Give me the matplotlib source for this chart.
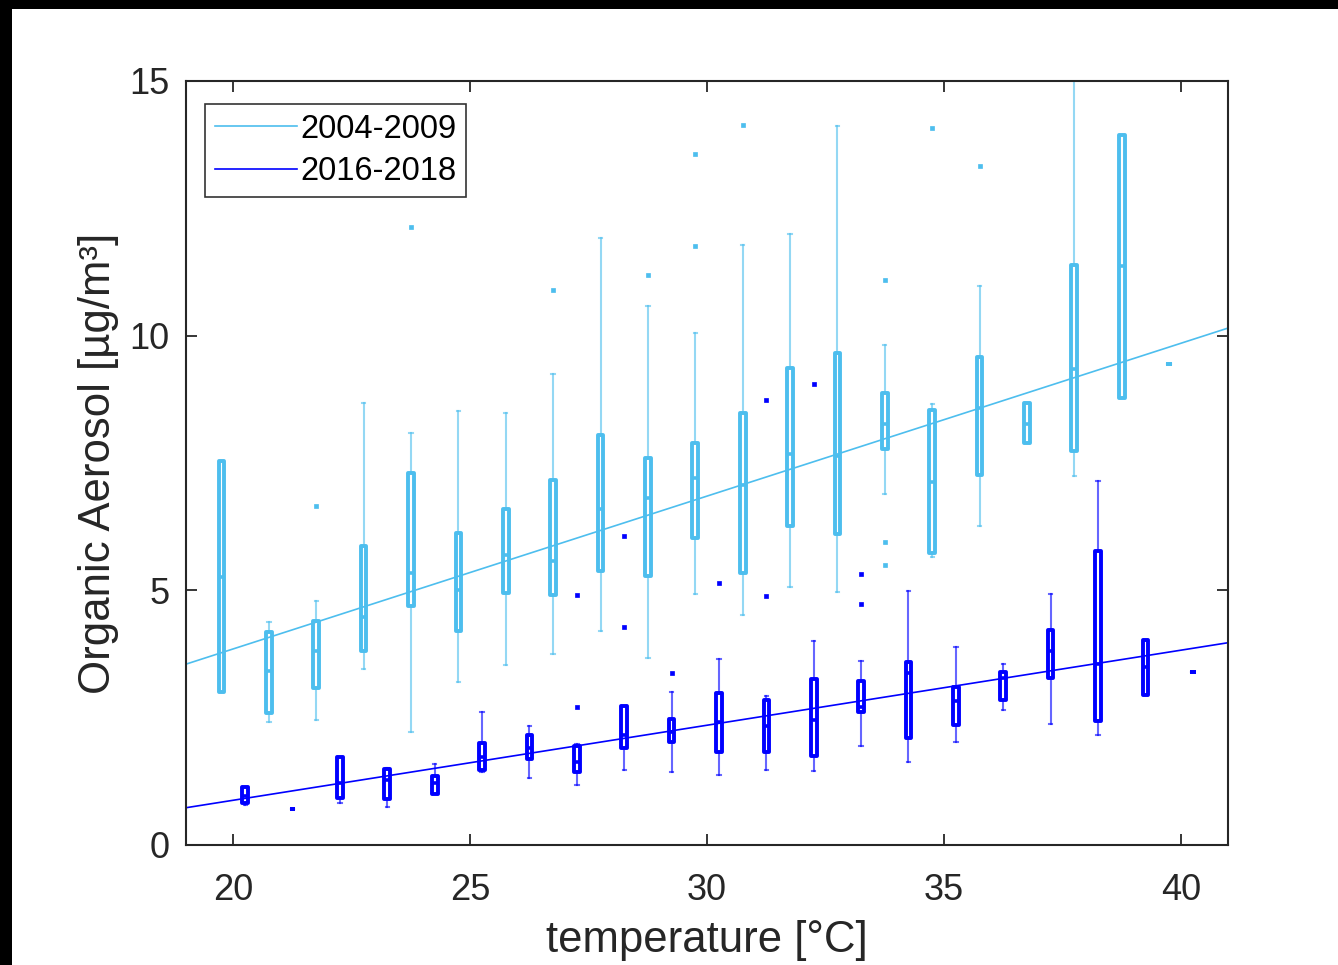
import matplotlib
matplotlib.use("Agg")
import matplotlib.pyplot as plt
from matplotlib.patches import Rectangle

plt.rcParams['font.family'] = ['Liberation Sans', 'DejaVu Sans']

# ---------------- data ----------------
light_pos = [19.75 + k for k in range(21)]
light_q1 = [3.00, 2.59, 3.08, 3.81, 4.69, 4.20, 4.95, 4.91, 5.38, 5.28, 6.03, 5.34, 6.26, 6.10, 7.78, 5.73, 7.26, 7.89, 7.74, 8.78, 9.44]
light_med = [5.26, 3.42, 3.81, 4.48, 5.34, 5.00, 5.69, 5.58, 6.60, 6.81, 7.20, 7.07, 7.68, 7.64, 8.27, 7.13, 8.58, 8.27, 9.35, 11.37, 9.44]
light_q3 = [7.54, 4.18, 4.40, 5.87, 7.30, 6.13, 6.60, 7.17, 8.05, 7.60, 7.89, 8.48, 9.37, 9.66, 8.88, 8.54, 9.58, 8.68, 11.39, 13.94, 9.44]
light_lo = [3.00, 2.42, 2.45, 3.46, 2.22, 3.20, 3.53, 3.75, 4.20, 3.67, 4.93, 4.52, 5.07, 4.97, 6.89, 5.65, 6.26, 7.89, 7.25, 8.78, 9.44]
light_hi = [7.54, 4.38, 4.79, 8.68, 8.09, 8.52, 8.48, 9.25, 11.92, 10.58, 10.05, 11.78, 12.00, 14.12, 9.82, 8.66, 10.98, 8.68, 15.5, 13.94, 9.44]
light_fliers = {2: [6.66], 4: [12.13], 7: [10.9], 9: [11.19], 10: [11.76, 13.57],
                11: [14.14], 14: [11.1, 5.95, 5.5], 15: [14.08], 16: [13.33]}

dark_pos = [20.25 + k for k in range(21)]
dark_q1 = [0.82, 0.71, 0.92, 0.90, 1.00, 1.47, 1.69, 1.43, 1.90, 2.02, 1.83, 1.83, 1.75, 2.61, 2.10, 2.36, 2.85, 3.28, 2.43, 2.95, 3.40]
dark_med = [0.96, 0.71, 1.22, 1.28, 1.22, 1.73, 1.90, 1.63, 2.16, 2.22, 2.42, 2.34, 2.45, 2.71, 3.38, 2.83, 3.28, 3.81, 3.55, 3.49, 3.40]
dark_q3 = [1.14, 0.71, 1.73, 1.49, 1.35, 2.00, 2.16, 1.94, 2.73, 2.47, 2.98, 2.85, 3.26, 3.22, 3.59, 3.10, 3.40, 4.22, 5.77, 4.03, 3.40]
dark_lo = [0.79, 0.71, 0.82, 0.75, 1.00, 1.43, 1.32, 1.18, 1.47, 1.43, 1.37, 1.47, 1.45, 1.94, 1.63, 2.02, 2.65, 2.38, 2.16, 2.95, 3.40]
dark_hi = [1.14, 0.71, 1.73, 1.51, 1.59, 2.61, 2.34, 1.98, 2.73, 3.00, 3.65, 2.93, 4.00, 3.61, 4.99, 3.89, 3.55, 4.93, 7.15, 4.03, 3.40]
dark_fliers = {7: [2.71, 4.91], 8: [6.07, 4.28], 9: [3.38], 10: [5.14],
               11: [8.74, 4.89], 12: [9.05], 13: [5.32, 4.73]}

# linear fits (slope, intercept)
light_fit = (0.300, -2.15)
dark_fit = (0.1473, -2.068)

labels = ['2004-2009', '2016-2018']
xticks = [20, 25, 30, 35, 40]
yticks = [0, 5, 10, 15]

LIGHT = '#4DBEEE'
DARK = '#0000FF'
AX_C = '#262626'

fig = plt.figure(figsize=(13.38, 9.65), dpi=100)
ax = fig.add_axes([0.139, 0.1244, 0.779, 0.7917])

def stats(q1, med, q3, lo, hi, fl):
    out = []
    for i in range(len(q1)):
        out.append(dict(q1=q1[i], med=med[i], q3=q3[i], whislo=lo[i], whishi=hi[i],
                        fliers=fl.get(i, [])))
    return out

def draw(st, pos, color):
    ax.bxp(st, positions=pos, widths=0.12, capwidths=0.07, patch_artist=True,
           boxprops=dict(facecolor='none', edgecolor=color, linewidth=2.8, joinstyle='round'),
           medianprops=dict(color=color, linewidth=2.6, solid_capstyle='butt'),
           whiskerprops=dict(color=color, linewidth=1.5, alpha=0.6),
           capprops=dict(color=color, linewidth=1.5, alpha=0.6),
           flierprops=dict(marker='s', markersize=3, markerfacecolor=color,
                           markeredgecolor=color, markeredgewidth=0.5, linestyle='none'),
           manage_ticks=False)

draw(stats(light_q1, light_med, light_q3, light_lo, light_hi, light_fliers), light_pos, LIGHT)
draw(stats(dark_q1, dark_med, dark_q3, dark_lo, dark_hi, dark_fliers), dark_pos, DARK)

xl = (19, 41)
ax.set_xlim(*xl)
ax.set_ylim(0, 15)
fx = list(xl)
l1, = ax.plot(fx, [light_fit[0] * x + light_fit[1] for x in fx], color=LIGHT, lw=1.2, label=labels[0])
l2, = ax.plot(fx, [dark_fit[0] * x + dark_fit[1] for x in fx], color=DARK, lw=1.2, label=labels[1])

ax.set_xticks(xticks)
ax.set_yticks(yticks)
ax.tick_params(direction='in', length=8, width=1.3, colors=AX_C, labelsize=26,
               top=True, right=True)
ax.tick_params(axis='x', pad=20)
ax.tick_params(axis='y', pad=12)
for s in ax.spines.values():
    s.set_color(AX_C)
    s.set_linewidth(1.5)

ax.set_xlabel('temperature [°C]', fontsize=31.5, color=AX_C)
ax.set_ylabel('Organic Aerosol [µg/m³]', fontsize=31.5, color=AX_C)
ax.xaxis.set_label_coords(0.5, -0.098)
ax.yaxis.set_label_coords(-0.064, 0.5)

leg = ax.legend(handles=[l1, l2], loc='upper left', bbox_to_anchor=(0.0185, 0.97),
                fontsize=23.5, frameon=True, fancybox=False, borderaxespad=0,
                handlelength=2.5, handletextpad=0.12, borderpad=0.3, labelspacing=0.35)
leg.get_frame().set_edgecolor('#000000')
leg.get_frame().set_linewidth(1.2)

# black frame strips of the screenshot
fig.patches.append(Rectangle((0, 1 - 9 / 965), 1, 9 / 965, transform=fig.transFigure,
                             facecolor='black', edgecolor='none', zorder=10))
fig.patches.append(Rectangle((0, 0), 12 / 1338, 1, transform=fig.transFigure,
                             facecolor='black', edgecolor='none', zorder=10))

fig.savefig('out.png', dpi=100, facecolor='white')
